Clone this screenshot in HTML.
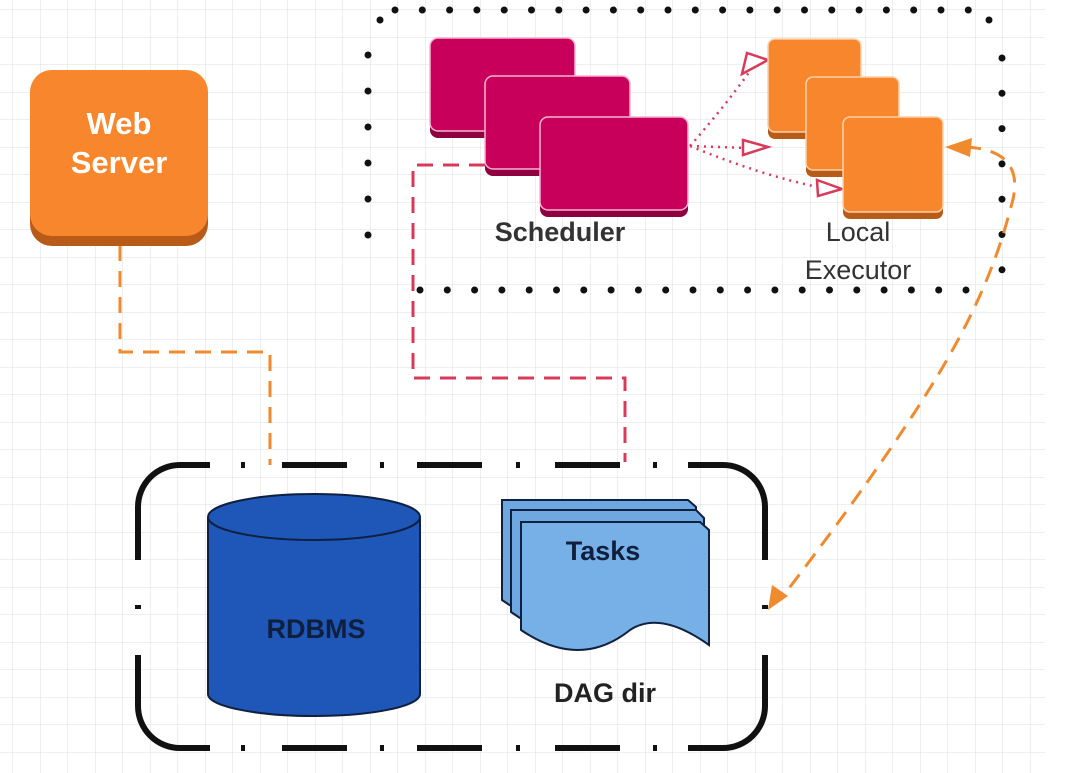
<!DOCTYPE html>
<html><head><meta charset="utf-8"><style>
html,body{margin:0;padding:0;background:#fff;}
svg{display:block}
text{font-family:"Liberation Sans",sans-serif}
</style></head><body>
<svg width="1075" height="773" viewBox="0 0 1075 773" xmlns="http://www.w3.org/2000/svg">
<defs>
<pattern id="g" width="27.5" height="27.5" patternUnits="userSpaceOnUse" x="13" y="10">
<path d="M27.5 0V27.5M0 27.5H27.5" stroke="#dcdcdc" stroke-width="1" fill="none"/>
</pattern>
</defs>
<rect x="0" y="0" width="1045" height="773" fill="url(#g)"/>

<!-- dotted box -->
<path d="M395 10H985" stroke="#111" stroke-width="7" stroke-linecap="round" stroke-dasharray="0 27.3" fill="none"/>
<path d="M420 290H985" stroke="#111" stroke-width="7" stroke-linecap="round" stroke-dasharray="0 27.3" fill="none"/>
<path d="M368 55V245" stroke="#111" stroke-width="7" stroke-linecap="round" stroke-dasharray="0 36" fill="none"/>
<path d="M380 20V275" stroke="#111" stroke-width="7" stroke-linecap="round" stroke-dasharray="0 255" fill="none"/>
<path d="M1002 58V270" stroke="#111" stroke-width="7" stroke-linecap="round" stroke-dasharray="0 35.3" fill="none"/>
<path d="M989 20V275" stroke="#111" stroke-width="7" stroke-linecap="round" stroke-dasharray="0 255" fill="none"/>

<!-- connectors -->
<path d="M120 245V352H270V465" stroke="#f08a2e" stroke-width="3" stroke-dasharray="16 10" fill="none"/>
<path d="M485 165H413V378H625V462" stroke="#d83a5a" stroke-width="3" stroke-dasharray="16 10" fill="none"/>

<!-- scheduler -->
<g stroke="#f4b6cf" stroke-width="1.5">
<rect x="430" y="42" width="145" height="96" rx="8" fill="#8e0040" stroke="none"/>
<rect x="430" y="38" width="145" height="93" rx="8" fill="#c8005c"/>
<rect x="485" y="80" width="145" height="96" rx="8" fill="#8e0040" stroke="none"/>
<rect x="485" y="76" width="145" height="93" rx="8" fill="#c8005c"/>
<rect x="540" y="121" width="148" height="96" rx="8" fill="#8e0040" stroke="none"/>
<rect x="540" y="117" width="148" height="93" rx="8" fill="#c8005c"/>
</g>
<text x="560" y="241" font-size="27" font-weight="bold" fill="#333" text-anchor="middle">Scheduler</text>

<!-- red dotted arrows -->
<g stroke="#d83a5a" stroke-width="2.5" stroke-dasharray="2 5" fill="none">
<path d="M690 146Q730 100 752 68"/>
<path d="M690 146L748 148"/>
<path d="M690 146Q760 175 822 188"/>
</g>
<g stroke="#d83a5a" stroke-width="2.5" fill="#fff">
<path d="M742 74L768 60L747 53Z"/>
<path d="M743 140L768 147L743 155Z"/>
<path d="M817 180L842 189L818 196Z"/>
</g>

<!-- executor -->
<g stroke="#fbd0a8" stroke-width="1.5">
<rect x="768" y="43" width="93" height="96" rx="7" fill="#b85a18" stroke="none"/>
<rect x="768" y="39" width="93" height="93" rx="7" fill="#f7862c"/>
<rect x="806" y="81" width="93" height="96" rx="7" fill="#b85a18" stroke="none"/>
<rect x="806" y="77" width="93" height="93" rx="7" fill="#f7862c"/>
<rect x="843" y="121" width="100" height="98" rx="7" fill="#b85a18" stroke="none"/>
<rect x="843" y="117" width="100" height="95" rx="7" fill="#f7862c"/>
</g>
<text x="858" y="241" font-size="27" fill="#333" text-anchor="middle">Local</text>
<text x="858" y="279" font-size="27" fill="#333" text-anchor="middle">Executor</text>

<!-- orange curved arrow -->
<path d="M965 147Q1030 150 1010 210Q990 290 935 380T780 600" stroke="#f08a2e" stroke-width="3" stroke-dasharray="16 10" fill="none"/>
<path d="M945 147L972 138L970 157Z" fill="#f08a2e"/>
<path d="M768 610L772 585L788 596Z" fill="#f08a2e"/>

<!-- web server -->
<rect x="30" y="76" width="178" height="170" rx="22" fill="#b85a18"/>
<rect x="30" y="70" width="178" height="166" rx="22" fill="#f7862c"/>
<text x="119" y="134" font-size="31" font-weight="bold" fill="#fff" text-anchor="middle">Web</text>
<text x="119" y="173" font-size="31" font-weight="bold" fill="#fff" text-anchor="middle">Server</text>

<!-- dash-dot box -->
<g stroke="#111" stroke-width="6" fill="none">
<path d="M138 560V507A42 42 0 0 1 180 465H210"/>
<path d="M688 465H723A42 42 0 0 1 765 507V560"/>
<path d="M138 655V706A42 42 0 0 0 180 748H210"/>
<path d="M688 748H723A42 42 0 0 0 765 706V655"/>
<path d="M282 465H347M417 465H482M555 465H620M282 748H347M417 748H482M555 748H620"/>
<path d="M241 465H245M380 465H384M516 465H520M653 465H657M241 748H245M380 748H384M516 748H520M653 748H657M138 605V609M765 605V609"/>
</g>

<!-- cylinder -->
<path d="M208 517V694A106 22 0 0 0 420 694V517" fill="#1f57b8" stroke="#0f2040" stroke-width="2"/>
<ellipse cx="314" cy="517" rx="106" ry="23" fill="#1f57b8" stroke="#0f2040" stroke-width="2"/>
<text x="316" y="638" font-size="27" font-weight="bold" fill="#0f1f3d" text-anchor="middle">RDBMS</text>

<!-- tasks -->
<g stroke="#0f2040" stroke-width="2" fill="#6fa8e0">
<path d="M502 500H688L696 507V600Q640 570 600 620Q560 640 502 600Z"/>
<path d="M511 510H696L704 518V615Q645 580 605 628Q565 650 511 612Z"/>
<path d="M521 522H700L709 530V645Q660 610 630 630Q580 670 521 630Z" fill="#77b0e6"/>
</g>
<text x="603" y="560" font-size="27" font-weight="bold" fill="#0f1f3d" text-anchor="middle">Tasks</text>
<text x="605" y="702" font-size="27" font-weight="bold" fill="#222" text-anchor="middle">DAG dir</text>
</svg>
</body></html>
